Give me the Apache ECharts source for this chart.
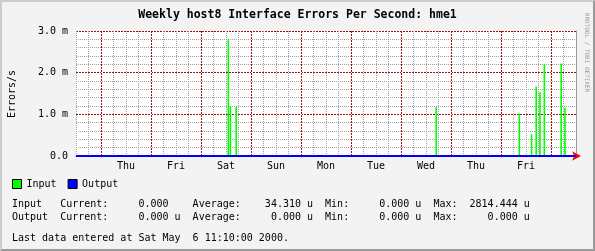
<!DOCTYPE html>
<html>
<head>
<meta charset="utf-8">
<script src="https://cdn.jsdelivr.net/npm/echarts@6/dist/echarts.min.js"></script>
<style>
  html, body { margin: 0; padding: 0; background: #f3f3f3; }
  #wrap { position: relative; width: 595px; height: 251px; }
  #chart { position: absolute; left: 0; top: 0; width: 595px; height: 251px; }
  #frame { position: absolute; left: 0; top: 0; width: 595px; height: 251px; box-sizing: border-box;
           border-style: solid; border-width: 2px; border-color: #cdcdcd #9a9a9a #9a9a9a #cdcdcd; pointer-events: none; }
</style>
</head>
<body>
<div id="wrap"><div id="chart"></div><div id="frame"></div></div>
<script>
// ---- data (hours since Wed 00:00, values in milli-errors/s) ----
const titleText = 'Weekly host8 Interface Errors Per Second: hme1';
const dayLabels = ['Thu', 'Fri', 'Sat', 'Sun', 'Mon', 'Tue', 'Wed', 'Thu', 'Fri'];
const midnightHours = [24, 48, 72, 96, 120, 144, 168, 192, 216, 240];
const yTickLabels = ['0.0', '1.0 m', '2.0 m', '3.0 m'];
const inputHours  = [85.1, 86.1, 88.9, 184.9, 224.8, 230.7, 232.9, 234.7, 236.8, 244.9, 246.7];
const inputValues = [2.814, 1.20, 1.18, 1.17, 1.02, 0.52, 1.67, 1.53, 2.20, 2.22, 1.16];
const outputHours  = [12, 252];
const outputValues = [0, 0];
const summaryLines = [
  'Input   Current:     0.000    Average:    34.310 u  Min:     0.000 u  Max:  2814.444 u',
  'Output  Current:     0.000 u  Average:     0.000 u  Min:     0.000 u  Max:     0.000 u',
  'Last data entered at Sat May  6 11:10:00 2000.'
];

const MONO = '"DejaVu Sans Mono", "Liberation Mono", monospace';
const MAJOR = '#a01010';
const MINOR = '#a0a0a0';
const NONE = 'rgba(0,0,0,0)';

const chart = echarts.init(document.getElementById('chart'), null, { renderer: 'canvas' });
chart.setOption({
  backgroundColor: '#f3f3f3',
  animation: false,
  title: {
    text: titleText, left: 'center', top: 9, padding: 0,
    textStyle: { fontFamily: MONO, fontWeight: 'bold', fontSize: 11.5, color: '#000' }
  },
  legend: {
    left: 12, top: 179, padding: 0, itemWidth: 9, itemHeight: 9, itemGap: 11,
    textStyle: { fontFamily: MONO, fontSize: 10, color: '#000' },
    data: [
      { name: 'Input', icon: 'rect', itemStyle: { color: '#00ff00', borderColor: '#000', borderWidth: 1 } },
      { name: 'Output', icon: 'rect', itemStyle: { color: '#0000ff', borderColor: '#000', borderWidth: 1 } }
    ]
  },
  grid: { left: 76, top: 31, width: 500, height: 125, show: true, backgroundColor: '#ffffff', borderWidth: 0 },
  xAxis: [
    {
      type: 'value', min: 12, max: 252, interval: 6,
      axisLine: { show: true, onZero: false, lineStyle: { color: '#ff0000', width: 1 },
                  symbol: ['none', 'arrow'], symbolSize: [7, 9], symbolOffset: [0, 5] },
      axisTick: { show: false }, axisLabel: { show: false },
      splitLine: { show: true, lineStyle: { color: MINOR, type: [1, 1], width: 1 } }
    },
    {
      type: 'value', min: 12, max: 252, interval: 24, position: 'bottom',
      axisLine: { show: false }, axisTick: { show: false }, splitLine: { show: false },
      axisLabel: {
        show: true, margin: 5, fontFamily: MONO, fontSize: 10, color: '#000',
        formatter: function (v) {
          const k = (v - 36) / 24;
          return (Number.isInteger(k) && k >= 0 && k < dayLabels.length) ? dayLabels[k] : '';
        }
      }
    }
  ],
  yAxis: [
    {
      type: 'value', min: 0, max: 3, interval: 0.2, position: 'right',
      axisLine: { show: true, lineStyle: { color: '#999999' } },
      axisTick: { show: false }, axisLabel: { show: false },
      splitLine: { show: true, lineStyle: { color: [NONE, MINOR, MINOR, MINOR, MINOR], type: [1, 1], width: 1 } }
    },
    {
      type: 'value', min: 0, max: 3, interval: 1, position: 'left',
      axisLine: { show: false }, axisTick: { show: false },
      axisLabel: {
        show: true, margin: 8, fontFamily: MONO, fontSize: 10, color: '#000',
        formatter: function (v) { return yTickLabels[Math.round(v)]; }
      },
      splitLine: { show: true, lineStyle: { color: MAJOR, type: [2, 1], width: 1 } }
    }
  ],
  graphic: [
    { type: 'text', x: 12.5, y: 94, rotation: Math.PI / 2,
      style: { text: 'Errors/s', font: '10px ' + MONO, fill: '#000', align: 'center', verticalAlign: 'middle' } },
    { type: 'text', x: 587, y: 52.5, rotation: -Math.PI / 2,
      style: { text: 'RRDTOOL / TOBI OETIKER', font: '6px ' + MONO, fill: '#999999', align: 'center', verticalAlign: 'middle' } },
    { type: 'text', x: 12, y: 204.5,
      style: { text: summaryLines[0], font: '10px ' + MONO, fill: '#000', verticalAlign: 'middle' } },
    { type: 'text', x: 12, y: 217.5,
      style: { text: summaryLines[1], font: '10px ' + MONO, fill: '#000', verticalAlign: 'middle' } },
    { type: 'text', x: 12, y: 238,
      style: { text: summaryLines[2], font: '10px ' + MONO, fill: '#000', verticalAlign: 'middle' } }
  ],
  series: [
    {
      name: 'Input', type: 'bar', xAxisIndex: 0, yAxisIndex: 1, barWidth: 1.6, z: 3,
      itemStyle: { color: '#00ff00' },
      data: inputHours.map((h, i) => [h, inputValues[i]]),
      markLine: {
        silent: true, symbol: ['none', 'none'], label: { show: false },
        lineStyle: { color: '#ffffff', type: 'solid', width: 1 },
        data: midnightHours.map(h => ({ xAxis: h }))
      }
    },
    {
      name: 'Output', type: 'line', xAxisIndex: 0, yAxisIndex: 1, symbol: 'none', z: 5,
      lineStyle: { color: '#0000ff', width: 2 }, itemStyle: { color: '#0000ff' },
      data: outputHours.map((h, i) => [h, outputValues[i]]),
      markLine: {
        silent: true, symbol: ['none', 'none'], label: { show: false },
        lineStyle: { color: MAJOR, type: [2, 1], width: 1 },
        data: midnightHours.map(h => ({ xAxis: h }))
      }
    }
  ]
});
</script>
</body>
</html>
